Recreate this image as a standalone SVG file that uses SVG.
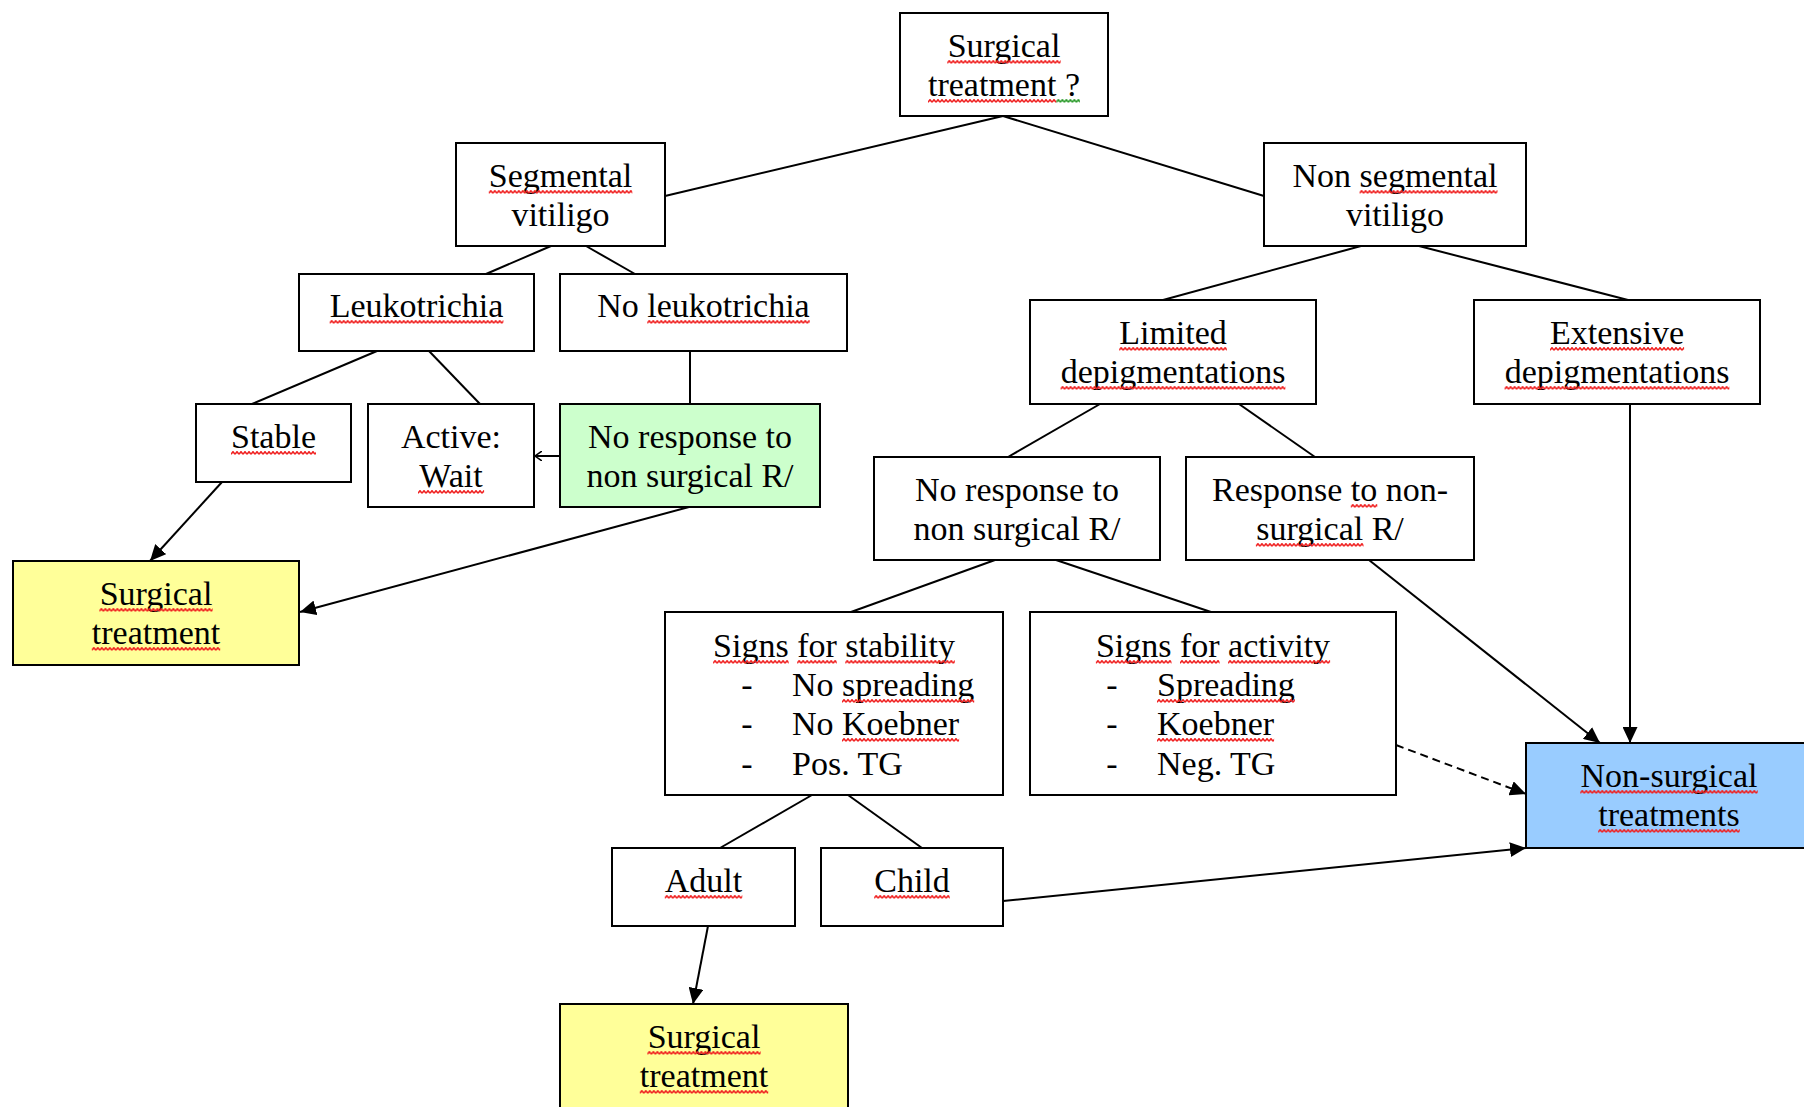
<svg xmlns="http://www.w3.org/2000/svg" width="1804" height="1107" viewBox="0 0 1804 1107">
<style>
.box{fill:#fff;stroke:#000;stroke-width:2}
.g{fill:#ccffcc}.y{fill:#ffff99}.b{fill:#99ccff}
text{font-family:"Liberation Serif","Times New Roman",serif;font-size:34px;fill:#000;text-anchor:middle}
.l{text-anchor:start}
.sq{fill:url(#sqr)}
.sg{fill:url(#sqg)}
.c{fill:none;stroke:#000;stroke-width:2}
.d{stroke-dasharray:8 5}
</style>
<defs>
<pattern id="sqr" width="4" height="4" patternUnits="userSpaceOnUse">
<path d="M0,3.3 L2,0.7 L4,3.3" fill="none" stroke="#f02020" stroke-width="1.5"/>
</pattern>
<pattern id="sqg" width="4" height="4" patternUnits="userSpaceOnUse">
<path d="M0,3.3 L2,0.7 L4,3.3" fill="none" stroke="#2a9a2a" stroke-width="1.5"/>
</pattern>
<marker id="ah" markerUnits="userSpaceOnUse" markerWidth="17" markerHeight="15" refX="16" refY="7.5" orient="auto">
<path d="M0,0 L16,7.5 L0,15 Z" fill="#000"/>
</marker>
<marker id="oa" markerUnits="userSpaceOnUse" markerWidth="8" markerHeight="10" refX="7" refY="5" orient="auto">
<path d="M0,0 L7,5 L0,10" fill="none" stroke="#000" stroke-width="1.5"/>
</marker>
</defs>
<rect width="1804" height="1107" fill="#fff"/>
<g id="connectors">
<path class="c" d="M1003,116 L665,196"/>
<path class="c" d="M1003,116 L1264,196"/>
<path class="c" d="M551,246 L486,274"/>
<path class="c" d="M586,246 L635,274"/>
<path class="c" d="M377,351 L252,404"/>
<path class="c" d="M429,351 L480,404"/>
<path class="c" d="M690,351 L690,404"/>
<path class="c" d="M560,456 L535,456" marker-end="url(#oa)"/>
<path class="c" d="M222,482 L150,561" marker-end="url(#ah)"/>
<path class="c" d="M689,507 L300,612" marker-end="url(#ah)"/>
<path class="c" d="M1361,246 L1163,300"/>
<path class="c" d="M1419,246 L1628,300"/>
<path class="c" d="M1100,404 L1008,457"/>
<path class="c" d="M1239,404 L1315,457"/>
<path class="c" d="M1630,404 L1630,743" marker-end="url(#ah)"/>
<path class="c" d="M1369,560 L1600,743" marker-end="url(#ah)"/>
<path class="c" d="M995,560 L851,612"/>
<path class="c" d="M1056,560 L1211,612"/>
<path class="c d" d="M1396,745 L1526,794" marker-end="url(#ah)"/>
<path class="c" d="M812,795 L720,848"/>
<path class="c" d="M848,795 L922,848"/>
<path class="c" d="M1003,901 L1526,848" marker-end="url(#ah)"/>
<path class="c" d="M708,926 L693,1004" marker-end="url(#ah)"/>
</g>
<g id="n-surgical-q">
<rect class="box" x="900" y="13" width="208" height="103"/>
<text x="1004" y="57">Surgical</text>
<text x="1004" y="96">treatment ?</text>
<rect class="sq" transform="translate(947.3,60)" width="113.4" height="4"/>
<rect class="sq" transform="translate(928,99)" width="128.4" height="4"/>
<rect class="sg" transform="translate(1056.4,99)" width="23.6" height="4"/>
</g>
<g id="n-segmental">
<rect class="box" x="456" y="143" width="209" height="103"/>
<text x="560.5" y="187">Segmental</text>
<text x="560.5" y="226">vitiligo</text>
<rect class="sq" transform="translate(488.8,190)" width="143.5" height="4"/>
</g>
<g id="n-nonsegmental">
<rect class="box" x="1264" y="143" width="262" height="103"/>
<text x="1395" y="187">Non segmental</text>
<text x="1395" y="226">vitiligo</text>
<rect class="sq" transform="translate(1359.6,190)" width="137.9" height="4"/>
</g>
<g id="n-leuko">
<rect class="box" x="299" y="274" width="235" height="77"/>
<text x="416.5" y="317">Leukotrichia</text>
<rect class="sq" transform="translate(329.7,320)" width="173.7" height="4"/>
</g>
<g id="n-noleuko">
<rect class="box" x="560" y="274" width="287" height="77"/>
<text x="703.5" y="317">No leukotrichia</text>
<rect class="sq" transform="translate(647.3,320)" width="162.4" height="4"/>
</g>
<g id="n-limited">
<rect class="box" x="1030" y="300" width="286" height="104"/>
<text x="1173" y="344">Limited</text>
<text x="1173" y="383">depigmentations</text>
<rect class="sq" transform="translate(1119.2,347)" width="107.7" height="4"/>
<rect class="sq" transform="translate(1060.6,386)" width="224.8" height="4"/>
</g>
<g id="n-extensive">
<rect class="box" x="1474" y="300" width="286" height="104"/>
<text x="1617" y="344">Extensive</text>
<text x="1617" y="383">depigmentations</text>
<rect class="sq" transform="translate(1550,347)" width="134.1" height="4"/>
<rect class="sq" transform="translate(1504.6,386)" width="224.8" height="4"/>
</g>
<g id="n-stable">
<rect class="box" x="196" y="404" width="155" height="78"/>
<text x="273.5" y="448">Stable</text>
<rect class="sq" transform="translate(231,451)" width="85" height="4"/>
</g>
<g id="n-active">
<rect class="box" x="368" y="404" width="166" height="103"/>
<text x="451" y="448">Active:</text>
<text x="451" y="487">Wait</text>
<rect class="sq" transform="translate(418,490)" width="66.1" height="4"/>
</g>
<g id="n-noresp-seg">
<rect class="box g" x="560" y="404" width="260" height="103"/>
<text x="690" y="448">No response to</text>
<text x="690" y="487">non surgical R/</text>
</g>
<g id="n-surg-left">
<rect class="box y" x="13" y="561" width="286" height="104"/>
<text x="156" y="605">Surgical</text>
<text x="156" y="644">treatment</text>
<rect class="sq" transform="translate(99.4,608)" width="113.3" height="4"/>
<rect class="sq" transform="translate(91.8,647)" width="128.4" height="4"/>
</g>
<g id="n-noresp">
<rect class="box" x="874" y="457" width="286" height="103"/>
<text x="1017" y="501">No response to</text>
<text x="1017" y="540">non surgical R/</text>
</g>
<g id="n-resp">
<rect class="box" x="1186" y="457" width="288" height="103"/>
<text x="1330" y="501">Response to non-</text>
<text x="1330" y="540">surgical R/</text>
<rect class="sq" transform="translate(1350.8,504)" width="26.5" height="4"/>
<rect class="sq" transform="translate(1255.9,543)" width="107.6" height="4"/>
</g>
<g id="n-stability">
<rect class="box" x="665" y="612" width="338" height="183"/>
<text x="834" y="656.5">Signs for stability</text>
<text x="747" y="696">-</text><text class="l" x="792" y="696">No spreading</text>
<text x="747" y="735">-</text><text class="l" x="792" y="735">No Koebner</text>
<text x="747" y="774.5">-</text><text class="l" x="792" y="774.5">Pos. TG</text>
<rect class="sq" transform="translate(713.1,660)" width="75.6" height="4"/>
<rect class="sq" transform="translate(797.2,660)" width="39.6" height="4"/>
<rect class="sq" transform="translate(845.3,660)" width="109.6" height="4"/>
<rect class="sq" transform="translate(842,699)" width="132.2" height="4"/>
<rect class="sq" transform="translate(842,738)" width="117.1" height="4"/>
</g>
<g id="n-activity">
<rect class="box" x="1030" y="612" width="366" height="183"/>
<text x="1213" y="656.5">Signs for activity</text>
<text x="1112" y="696">-</text><text class="l" x="1157" y="696">Spreading</text>
<text x="1112" y="735">-</text><text class="l" x="1157" y="735">Koebner</text>
<text x="1112" y="774.5">-</text><text class="l" x="1157" y="774.5">Neg. TG</text>
<rect class="sq" transform="translate(1095.9,660)" width="75.6" height="4"/>
<rect class="sq" transform="translate(1180,660)" width="39.6" height="4"/>
<rect class="sq" transform="translate(1228.1,660)" width="102" height="4"/>
<rect class="sq" transform="translate(1157,699)" width="137.9" height="4"/>
<rect class="sq" transform="translate(1157,738)" width="117.1" height="4"/>
</g>
<g id="n-nonsurgical">
<rect class="box b" x="1526" y="743" width="286" height="105"/>
<text x="1669" y="787">Non-surgical</text>
<text x="1669" y="826">treatments</text>
<rect class="sq" transform="translate(1580.3,790)" width="177.5" height="4"/>
<rect class="sq" transform="translate(1598.2,829)" width="141.6" height="4"/>
</g>
<g id="n-adult">
<rect class="box" x="612" y="848" width="183" height="78"/>
<text x="703.5" y="892">Adult</text>
<rect class="sq" transform="translate(664.8,895)" width="77.5" height="4"/>
</g>
<g id="n-child">
<rect class="box" x="821" y="848" width="182" height="78"/>
<text x="912" y="892">Child</text>
<rect class="sq" transform="translate(874.2,895)" width="75.6" height="4"/>
</g>
<g id="n-surg-bottom">
<rect class="box y" x="560" y="1004" width="288" height="104"/>
<text x="704" y="1048">Surgical</text>
<text x="704" y="1087">treatment</text>
<rect class="sq" transform="translate(647.4,1051)" width="113.3" height="4"/>
<rect class="sq" transform="translate(639.8,1090)" width="128.4" height="4"/>
</g>
</svg>
